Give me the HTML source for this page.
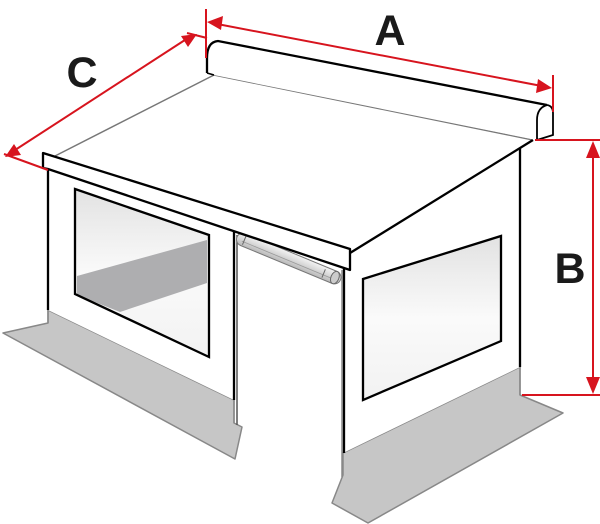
<!DOCTYPE html>
<html><head><meta charset="utf-8"><style>
html,body{margin:0;padding:0;background:#fff;width:600px;height:524px;overflow:hidden}
svg{display:block}
text{font-family:"Liberation Sans",Arial,sans-serif;font-weight:bold;fill:#1a1a1a}
</style></head><body>
<svg width="600" height="524" viewBox="0 0 600 524" xmlns="http://www.w3.org/2000/svg">
<defs>
<linearGradient id="wg" x1="0" y1="0" x2="0" y2="1">
<stop offset="0" stop-color="#e2e2e2"/><stop offset="0.5" stop-color="#fafafa"/><stop offset="1" stop-color="#f2f2f2"/>
</linearGradient>
<linearGradient id="tube" x1="0" y1="0" x2="0" y2="1">
<stop offset="0" stop-color="#f4f4f4"/><stop offset="0.5" stop-color="#d8d8d8"/><stop offset="1" stop-color="#b8b8b8"/>
</linearGradient>
</defs>

<polygon points="48,310 234,400 234,423 242,427 235,459 3,333 48,323" fill="#c6c6c6" stroke="#888" stroke-width="1.5" stroke-linejoin="round"/>
<polygon points="343,453 520,367 520,395 563,413 368,523 332,503 343,475" fill="#c6c6c6" stroke="#888" stroke-width="1.5" stroke-linejoin="round"/>

<polygon points="48,169 234,232 234,400 48,310" fill="#fff"/>
<line x1="48" y1="169" x2="48" y2="310" stroke="#000" stroke-width="2.3"/>
<line x1="234" y1="230" x2="234" y2="400" stroke="#000" stroke-width="2.3"/>
<line x1="234" y1="400" x2="234" y2="423" stroke="#888" stroke-width="1.5"/>
<line x1="48" y1="310" x2="48" y2="323" stroke="#888" stroke-width="1.5"/>
<polygon points="75,189 209,235 209,357 75,294" fill="url(#wg)"/>
<polygon points="77,276 207,240 207,283 120,312 77,295" fill="#aeaeb0"/>
<polygon points="75,189 209,235 209,357 75,294" fill="none" stroke="#000" stroke-width="2.3"/>

<line x1="237" y1="235" x2="237" y2="425" stroke="#555" stroke-width="1.5"/>
<line x1="342" y1="270" x2="342" y2="477" stroke="#888" stroke-width="1.5"/>

<polygon points="343,262 520,148 520,367 343,453" fill="#fff"/>
<line x1="520" y1="148" x2="520" y2="367" stroke="#000" stroke-width="2.3"/>
<line x1="520" y1="367" x2="520" y2="395" stroke="#888" stroke-width="1.5"/>
<line x1="344" y1="268" x2="344" y2="453" stroke="#000" stroke-width="2.3"/>
<polygon points="363,279 501,236 501,341 363,400" fill="url(#wg)" stroke="#000" stroke-width="2.3"/>

<g transform="translate(237,237) rotate(22.5)">
<rect x="0" y="-6.5" width="112" height="13" rx="6.5" fill="url(#tube)" stroke="#777" stroke-width="1"/>
<line x1="6" y1="2" x2="104" y2="2" stroke="#999" stroke-width="0.8"/>
<line x1="8" y1="-4" x2="8" y2="5" stroke="#666" stroke-width="1"/>
<line x1="94" y1="-4" x2="94" y2="5" stroke="#666" stroke-width="1"/>
<ellipse cx="106" cy="0" rx="4" ry="6.5" fill="#ccc" stroke="#666" stroke-width="1"/>
</g>

<polygon points="214,75 533,140 350,253 55,156" fill="#fff"/>
<line x1="214" y1="75" x2="533" y2="140" stroke="#777" stroke-width="1.5"/>
<line x1="214" y1="75" x2="55" y2="156" stroke="#777" stroke-width="1.5"/>
<line x1="350" y1="253" x2="533" y2="140" stroke="#000" stroke-width="2.3"/>
<polygon points="43,153 350,249 350,270 48,169 43,168" fill="#fff" stroke="#000" stroke-width="2.3" stroke-linejoin="round"/>

<path d="M207,73 L207,58 Q207,42 218,41 L547,105 Q553,107 553,115 L553,135 L536,140 L214,75 Z" fill="#fff"/>
<path d="M207,73 L207,58 Q207,42 218,41 L547,105" fill="none" stroke="#000" stroke-width="2.3"/>
<path d="M547,105 Q537,108 537,120 L537,140 M537,140 L553,135 L553,113 Q553,106 547,105" fill="none" stroke="#000" stroke-width="1.8"/>
<line x1="207" y1="73" x2="214" y2="75" stroke="#000" stroke-width="1.5"/>

<g stroke="#d7141e" stroke-width="2" fill="none">
<line x1="206" y1="9" x2="206" y2="58"/>
<line x1="553" y1="75" x2="553" y2="112"/>
<line x1="212" y1="23" x2="547" y2="87"/>
<line x1="187" y1="33" x2="207" y2="38"/>
<line x1="4" y1="154" x2="48" y2="170"/>
<line x1="188" y1="38" x2="12" y2="152"/>
<line x1="535" y1="140" x2="600" y2="140"/>
<line x1="522" y1="395" x2="600" y2="395"/>
<line x1="593" y1="146" x2="593" y2="389"/>
</g>
<g fill="#d7141e">
<polygon points="207,22 223,16 221,30"/>
<polygon points="552,88 536,93 538,79"/>
<polygon points="197,34 188,47 181,36"/>
<polygon points="5,157 14,144 21,155"/>
<polygon points="593,141 586,158 600,158"/>
<polygon points="593,394 586,377 600,377"/>
</g>

<text x="390" y="45" font-size="43" text-anchor="middle">A</text>
<text x="82" y="87" font-size="43" text-anchor="middle">C</text>
<text x="570" y="283" font-size="43" text-anchor="middle">B</text>
</svg>
</body></html>
